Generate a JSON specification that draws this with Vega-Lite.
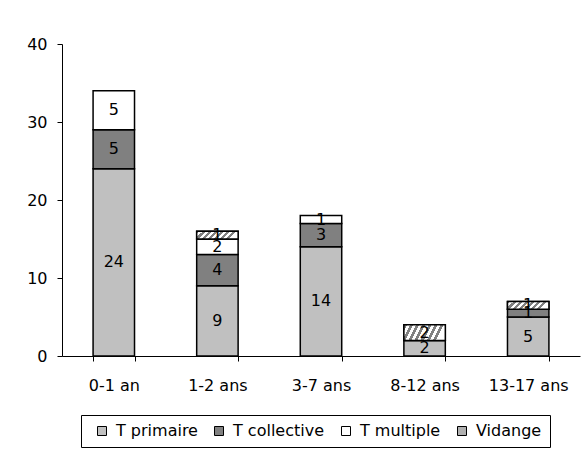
{
  "$schema": "https://vega.github.io/schema/vega-lite/v6.json",
  "width": 518,
  "height": 312,
  "autosize": {"type": "none"},
  "padding": {"left": 62, "top": 44, "right": 8, "bottom": 95},
  "background": "white",
  "config": {
    "view": {"stroke": null},
    "font": "DejaVu Sans",
    "axis": {
      "labelFont": "DejaVu Sans",
      "labelFontSize": 16,
      "labelColor": "black",
      "domainColor": "black",
      "tickColor": "black",
      "tickSize": 5,
      "grid": false,
      "title": null
    },
    "legend": {
      "labelFont": "DejaVu Sans",
      "labelFontSize": 16,
      "labelColor": "black"
    }
  },
  "data": {
    "values": [
      {"c": "0-1 an", "s": "T primaire", "k": 1, "v": 24},
      {"c": "0-1 an", "s": "T collective", "k": 2, "v": 5},
      {"c": "0-1 an", "s": "T multiple", "k": 3, "v": 5},
      {"c": "1-2 ans", "s": "T primaire", "k": 1, "v": 9},
      {"c": "1-2 ans", "s": "T collective", "k": 2, "v": 4},
      {"c": "1-2 ans", "s": "T multiple", "k": 3, "v": 2},
      {"c": "1-2 ans", "s": "Vidange", "k": 4, "v": 1},
      {"c": "3-7 ans", "s": "T primaire", "k": 1, "v": 14},
      {"c": "3-7 ans", "s": "T collective", "k": 2, "v": 3},
      {"c": "3-7 ans", "s": "T multiple", "k": 3, "v": 1},
      {"c": "8-12 ans", "s": "T primaire", "k": 1, "v": 2},
      {"c": "8-12 ans", "s": "Vidange", "k": 4, "v": 2},
      {"c": "13-17 ans", "s": "T primaire", "k": 1, "v": 5},
      {"c": "13-17 ans", "s": "T collective", "k": 2, "v": 1},
      {"c": "13-17 ans", "s": "Vidange", "k": 4, "v": 1}
    ]
  },
  "encoding": {
    "x": {
      "field": "c",
      "type": "nominal",
      "sort": ["0-1 an", "1-2 ans", "3-7 ans", "8-12 ans", "13-17 ans"],
      "scale": {"paddingInner": 0.6, "paddingOuter": 0.3},
      "axis": {"labelAngle": 0, "tickBand": "extent", "labelPadding": 16}
    },
    "order": {"field": "k", "type": "quantitative"}
  },
  "layer": [
    {
      "mark": {"type": "bar", "stroke": "black", "strokeWidth": 1.5},
      "encoding": {
        "y": {
          "field": "v",
          "type": "quantitative",
          "stack": "zero",
          "scale": {"domain": [0, 40]},
          "axis": {"values": [0, 10, 20, 30, 40], "labelPadding": 10}
        },
        "color": {
          "field": "s",
          "type": "nominal",
          "scale": {
            "domain": ["T primaire", "T collective", "T multiple", "Vidange"],
            "range": ["#C0C0C0", "#808080", "#FFFFFF", "#B0B0B0"]
          },
          "legend": {
            "title": null,
            "orient": "none",
            "direction": "horizontal",
            "legendX": 19,
            "legendY": 371,
            "strokeColor": "black",
            "padding": 8,
            "symbolType": "square",
            "symbolSize": 81,
            "symbolOffset": 5,
            "symbolStrokeColor": "black",
            "symbolStrokeWidth": 1,
            "labelOffset": 6,
            "columnPadding": 8,
            "encode": {
              "symbols": {
                "update": {
                  "stroke": {"value": "black"},
                  "strokeWidth": {"value": 1},
                  "opacity": {"value": 1},
                  "fill": [
                    {
                      "test": "datum.value === 'Vidange'",
                      "value": {
                        "gradient": "linear",
                        "x1": 0, "y1": 0, "x2": 1, "y2": 1,
                        "stops": [
                          {"offset": 0, "color": "#808080"},
                          {"offset": 0.2, "color": "#808080"},
                          {"offset": 0.2, "color": "#FFFFFF"},
                          {"offset": 0.4, "color": "#FFFFFF"},
                          {"offset": 0.4, "color": "#808080"},
                          {"offset": 0.6, "color": "#808080"},
                          {"offset": 0.6, "color": "#FFFFFF"},
                          {"offset": 0.8, "color": "#FFFFFF"},
                          {"offset": 0.8, "color": "#808080"},
                          {"offset": 1, "color": "#808080"}
                        ]
                      }
                    },
                    {"scale": "color", "field": "value"}
                  ]
                }
              }
            }
          }
        }
      }
    },
    {
      "mark": {
        "type": "bar",
        "stroke": "black",
        "strokeWidth": 1.5,
        "fill": {
          "gradient": "linear",
          "x1": 0, "y1": 0, "x2": 1, "y2": 0.19,
          "stops": [
            {"offset": 0, "color": "#808080"},
            {"offset": 0.0714, "color": "#808080"},
            {"offset": 0.0714, "color": "#FFFFFF"},
            {"offset": 0.1429, "color": "#FFFFFF"},
            {"offset": 0.1429, "color": "#808080"},
            {"offset": 0.2143, "color": "#808080"},
            {"offset": 0.2143, "color": "#FFFFFF"},
            {"offset": 0.2857, "color": "#FFFFFF"},
            {"offset": 0.2857, "color": "#808080"},
            {"offset": 0.3571, "color": "#808080"},
            {"offset": 0.3571, "color": "#FFFFFF"},
            {"offset": 0.4286, "color": "#FFFFFF"},
            {"offset": 0.4286, "color": "#808080"},
            {"offset": 0.5, "color": "#808080"},
            {"offset": 0.5, "color": "#FFFFFF"},
            {"offset": 0.5714, "color": "#FFFFFF"},
            {"offset": 0.5714, "color": "#808080"},
            {"offset": 0.6429, "color": "#808080"},
            {"offset": 0.6429, "color": "#FFFFFF"},
            {"offset": 0.7143, "color": "#FFFFFF"},
            {"offset": 0.7143, "color": "#808080"},
            {"offset": 0.7857, "color": "#808080"},
            {"offset": 0.7857, "color": "#FFFFFF"},
            {"offset": 0.8571, "color": "#FFFFFF"},
            {"offset": 0.8571, "color": "#808080"},
            {"offset": 0.9286, "color": "#808080"},
            {"offset": 0.9286, "color": "#FFFFFF"},
            {"offset": 1, "color": "#FFFFFF"}
          ]
        }
      },
      "encoding": {
        "y": {"field": "v", "type": "quantitative", "stack": "zero"},
        "detail": {"field": "s"},
        "opacity": {
          "condition": {"test": "datum.s === 'Vidange'", "value": 1},
          "value": 0
        }
      }
    },
    {
      "mark": {"type": "text", "fontSize": 16, "font": "DejaVu Sans", "color": "black"},
      "encoding": {
        "y": {"field": "v", "type": "quantitative", "stack": "zero", "bandPosition": 0.5},
        "detail": {"field": "s"},
        "text": {"field": "v", "type": "quantitative"}
      }
    }
  ]
}
